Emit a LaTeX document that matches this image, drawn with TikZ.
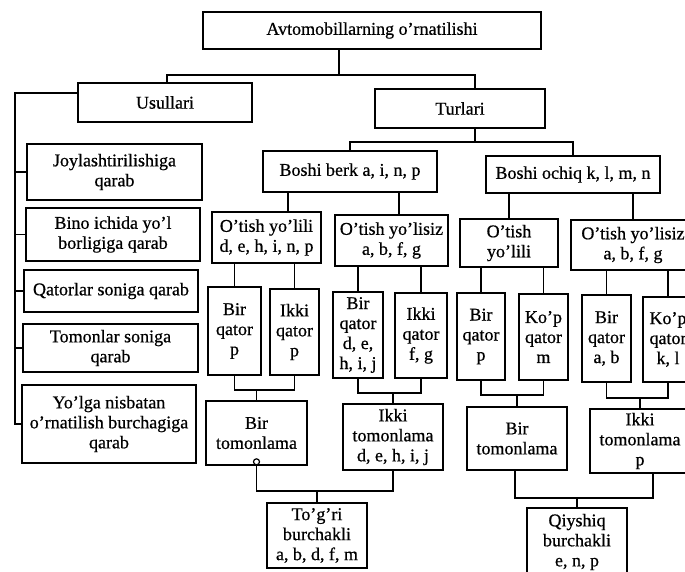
\documentclass[tikz,border=0pt]{standalone}
\usepackage{fontspec}
\setmainfont{Liberation Serif}
\newfontfamily\inkfont[FakeBold=0.6]{Liberation Serif}
\begin{document}
\begin{tikzpicture}[x=1pt,y=-1pt,
  box/.style={draw, line width=1.6pt, inner sep=0pt, align=center,
              font=\inkfont\fontsize{18}{20}\selectfont},
  wire/.style={line width=1.6pt}]
\clip (0,0) rectangle (685,572);

% --- top levels ---
\node[box, minimum width=338pt, minimum height=37pt] (top)  at (372,30.5)  {Avtomobillarning o’rnatilishi};
\node[box, minimum width=174pt, minimum height=39pt] (usul) at (165,102.5) {Usullari};
\node[box, minimum width=170pt, minimum height=39pt] (turl) at (460,108.5) {Turlari};

% --- methods column ---
\node[box, minimum width=175pt, minimum height=56pt] (joy)   at (114.5,172) {Joylashtirilishiga\\qarab};
\node[box, minimum width=174pt, minimum height=53pt] (bino)  at (113,234.5) {Bino ichida yo’l\\borligiga qarab};
\node[box, minimum width=174pt, minimum height=42pt] (qat)   at (111,291)   {Qatorlar soniga qarab};
\node[box, minimum width=175pt, minimum height=48pt] (tomon) at (110.5,348) {Tomonlar soniga\\qarab};
\node[box, minimum width=174pt, minimum height=78pt] (yolga) at (109,424)   {Yo’lga nisbatan\\o’rnatilish burchagiga\\qarab};

% --- types ---
\node[box, minimum width=174pt, minimum height=41pt] (berk)  at (350,171.5) {Boshi berk a, i, n, p};
\node[box, minimum width=174pt, minimum height=37pt] (ochiq) at (573,174.5) {Boshi ochiq k, l, m, n};

\node[box, minimum width=109pt, minimum height=51pt] (otl1) at (266.5,237.5) {O’tish yo’lili\\d, e, h, i, n, p};
\node[box, minimum width=113pt, minimum height=51pt] (otz1) at (391.5,240.5) {O’tish yo’lisiz\\a, b, f, g};
\node[box, minimum width=98pt,  minimum height=48pt] (otl2) at (509,243)     {O’tish\\yo’lili};
\node[box, minimum width=124pt, minimum height=50pt] (otz2) at (633,245)     {O’tish yo’lisiz\\a, b, f, g};

\node[box, minimum width=53pt, minimum height=88pt] (bq1) at (234.5,331)   {Bir\\qator\\p};
\node[box, minimum width=49pt, minimum height=86pt] (iq1) at (294.5,332)   {Ikki\\qator\\p};
\node[box, minimum width=50pt, minimum height=86pt] (bq2) at (358,335)     {Bir\\qator\\d, e,\\h, i, j};
\node[box, minimum width=52pt, minimum height=85pt] (iq2) at (421,335.5)   {Ikki\\qator\\f, g};
\node[box, minimum width=48pt, minimum height=87pt] (bq3) at (481,336.5)   {Bir\\qator\\p};
\node[box, minimum width=49pt, minimum height=86pt] (kq1) at (543.5,337)   {Ko’p\\qator\\m};
\node[box, minimum width=49pt, minimum height=87pt] (bq4) at (606.5,338.5) {Bir\\qator\\a, b};
\node[box, minimum width=50pt, minimum height=85pt] (kq2) at (668,339.5)   {Ko’p\\qator\\k, l};

\node[box, minimum width=101pt, minimum height=64pt] (tom1) at (256.5,433) {Bir\\tomonlama};
\node[box, minimum width=100pt, minimum height=66pt] (tom2) at (393,437)   {Ikki\\tomonlama\\d, e, h, i, j};
\node[box, minimum width=100pt, minimum height=63pt] (tom3) at (517,438.5) {Bir\\tomonlama};
\node[box, minimum width=100pt, minimum height=64pt] (tom4) at (640,441)   {Ikki\\tomonlama\\p};

\node[box, minimum width=100pt, minimum height=65pt] (tog) at (317,535.5) {To’g’ri\\burchakli\\a, b, d, f, m};
\node[box, minimum width=100pt, minimum height=68pt] (qiy) at (577,542)   {Qiyshiq\\burchakli\\e, n, p};

% --- connectors: top ---
\coordinate (j1) at (339,75);
\draw[wire] ([xshift=-33pt]top.south) -- (j1);
\draw[wire] ([xshift=2pt]usul.north) |- (j1) -| ([xshift=15pt]turl.north);

% --- connectors: methods trunk ---
\coordinate (trunk) at (15,0);
\draw[wire] ([yshift=9.5pt]usul.west) -| (yolga.west -| trunk) -- (yolga.west);
\foreach \n in {joy,bino,qat,tomon}
  \draw[wire] (\n.west) -- (\n.west -| trunk);

% --- connectors: types ---
\coordinate (j2) at (475,142);
\draw[wire] ([xshift=15pt]turl.south) -- (j2);
\draw[wire] (berk.north) |- (j2) -| (ochiq.north);

\draw[wire] ([xshift=21.5pt]otl1.north) -- ([xshift=21.5pt]otl1.north |- berk.south);
\draw[wire] ([xshift=7.5pt]otz1.north) -- ([xshift=7.5pt]otz1.north |- berk.south);
\draw[wire] (otl2.north) -- (otl2.north |- ochiq.south);
\draw[wire] (otz2.north) -- (otz2.north |- ochiq.south);

\foreach \c/\p in {bq1/otl1,iq1/otl1,bq2/otz1,iq2/otz1,bq3/otl2,kq1/otl2,bq4/otz2,kq2/otz2}
  \draw[wire] (\c.north) -- (\c.north |- \p.south);

% --- connectors: into the one/two-sided boxes ---
\draw[wire] (bq1.south) -- ++(0,14) coordinate (m1) -| (iq1.south);
\draw[wire] (tom1.north) -- (tom1.north |- m1);
\draw[wire] (bq2.south) -- ++(0,14) coordinate (m2) -| (iq2.south);
\draw[wire] (tom2.north) -- (tom2.north |- m2);
\draw[wire] (bq3.south) -- ++(0,14) coordinate (m3) -| (kq1.south);
\draw[wire] (tom3.north) -- (tom3.north |- m3);
\draw[wire] (bq4.south) -- ++(0,15) coordinate (m4) -| (kq2.south);
\draw[wire] (tom4.north) -- (tom4.north |- m4);

% --- connectors: angle boxes ---
\draw[wire] (tom1.south) -- ++(0,25) coordinate (m5) -| (tom2.south);
\draw[wire] (tog.north) -- (tog.north |- m5);
\draw[wire] ([xshift=-2pt]tom3.south) -- ++(0,27) coordinate (m6) -| ([xshift=13pt]tom4.south);
\draw[wire] (qiy.north) -- (qiy.north |- m6);

% small ring on the lower edge of the left one-sided box
\draw[line width=1.2pt, fill=white] ([yshift=4pt]tom1.south) circle (3pt);
\end{tikzpicture}
\end{document}
